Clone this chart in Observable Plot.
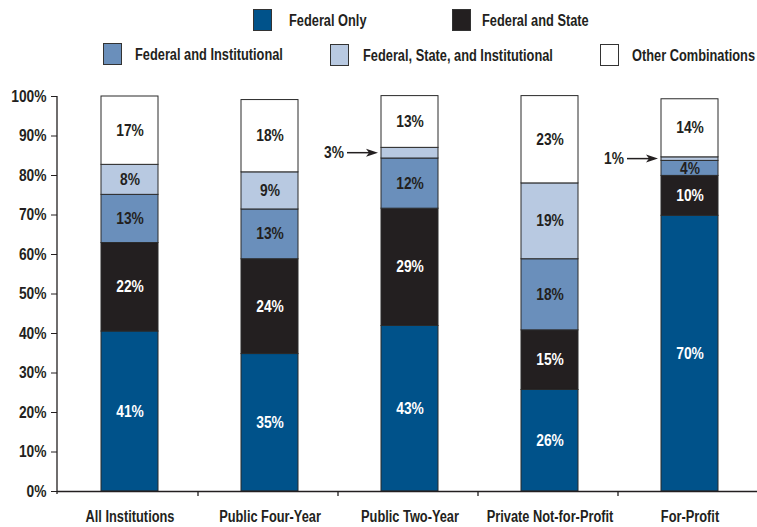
<!DOCTYPE html>
<html><head><meta charset="utf-8">
<script src="https://cdn.jsdelivr.net/npm/d3@7"></script>
<script src="https://cdn.jsdelivr.net/npm/@observablehq/plot@0.6"></script>
<style>
body{margin:0;background:#fff;}
#wrap{width:757px;font-family:"Liberation Sans",Arial,sans-serif;font-weight:bold;color:#231f20;}
#legend{position:relative;height:75px;font-size:16px;}
.sw{position:absolute;width:19px;height:22px;border:1px solid #333;box-sizing:border-box;}
.lt{position:absolute;white-space:nowrap;line-height:22px;transform:scaleX(0.8);transform-origin:0 50%;}
#chart svg{display:block;}
</style></head>
<body><div id="wrap"><div id="legend"></div><div id="chart"></div></div>
<script>
// ---- data ----
const categories = ["All Institutions", "Public Four-Year", "Public Two-Year", "Private Not-for-Profit", "For-Profit"];
const seriesNames = ["Federal Only", "Federal and State", "Federal and Institutional", "Federal, State, and Institutional", "Other Combinations"];
const seriesColors = ["#00528a", "#231f20", "#6a8fbb", "#b8c9e1", "#ffffff"];
const federalOnly = [40.5, 34.8, 41.9, 25.7, 69.8];
const federalAndState = [22.4, 24.0, 29.7, 15.1, 10.1];
const federalAndInstitutional = [12.2, 12.6, 12.7, 18.0, 3.8];
const federalStateInstitutional = [7.6, 9.4, 2.7, 19.2, 0.9];
const otherCombinations = [17.3, 18.3, 13.1, 22.1, 14.7];
const federalOnlyLabels = ["41%", "35%", "43%", "26%", "70%"];
const federalAndStateLabels = ["22%", "24%", "29%", "15%", "10%"];
const federalAndInstitutionalLabels = ["13%", "13%", "12%", "18%", "4%"];
const federalStateInstitutionalLabels = ["8%", "9%", "", "19%", ""];
const otherCombinationsLabels = ["17%", "18%", "13%", "23%", "14%"];
const calloutCategories = ["Public Two-Year", "For-Profit"];
const calloutSeries = "Federal, State, and Institutional";
const calloutLabels = ["3%", "1%"];
const yTicks = [0, 10, 20, 30, 40, 50, 60, 70, 80, 90, 100];

// ---- build table ----
const seriesValues = [federalOnly, federalAndState, federalAndInstitutional, federalStateInstitutional, otherCombinations];
const seriesLabels = [federalOnlyLabels, federalAndStateLabels, federalAndInstitutionalLabels, federalStateInstitutionalLabels, otherCombinationsLabels];
const rows = [];
categories.forEach((c, i) => {
  let acc = 0;
  seriesNames.forEach((s, j) => {
    const v = seriesValues[j][i];
    rows.push({category: c, series: s, sIndex: j, value: v, start: acc, end: acc + v, label: seriesLabels[j][i]});
    acc += v;
  });
});
const callouts = calloutCategories.map((c, k) => {
  const r = rows.find(d => d.category === c && d.series === calloutSeries);
  return {category: c, mid: (r.start + r.end) / 2, label: calloutLabels[k]};
});

// ---- legend (HTML, above the SVG) ----
const swatchPos = [[253, 9], [452, 9], [103, 43], [330, 44], [600, 44]];
const textLeft = [289, 482, 135, 363, 632];
const legend = document.getElementById("legend");
seriesNames.forEach((s, j) => {
  const sw = document.createElement("div");
  sw.className = "sw";
  sw.style.left = swatchPos[j][0] + "px";
  sw.style.top = swatchPos[j][1] + "px";
  sw.style.background = seriesColors[j];
  const tx = document.createElement("div");
  tx.className = "lt";
  tx.style.left = textLeft[j] + "px";
  tx.style.top = (swatchPos[j][1] + 1) + "px";
  tx.textContent = s;
  legend.appendChild(sw); legend.appendChild(tx);
});

// ---- custom axis lines and callouts ----
function axisLines(index, scales, values, dims) {
  const x = scales.x, y = scales.y;
  const bw = x.bandwidth ? x.bandwidth() : 0;
  const g = d3.create("svg:g").attr("stroke", "#231f20").attr("stroke-width", 1.3);
  g.append("line").attr("x1", dims.marginLeft).attr("x2", dims.marginLeft)
    .attr("y1", y(100)).attr("y2", y(0) + 3);
  for (let i = 1; i < categories.length; i++) {
    const xb = (x(categories[i - 1]) + bw + x(categories[i])) / 2 - 1.5;
    g.append("line").attr("x1", xb).attr("x2", xb).attr("y1", y(0)).attr("y2", y(0) + 5);
  }
  return g.node();
}
function calloutMarks(index, scales, values, dims) {
  const x = scales.x, y = scales.y;
  const g = d3.create("svg:g");
  callouts.forEach(c => {
    const xs = x(c.category), yy = y(c.mid);
    const tip = xs - 3, tail = xs - 34;
    g.append("line").attr("x1", tail).attr("x2", tip - 8).attr("y1", yy).attr("y2", yy)
      .attr("stroke", "#231f20").attr("stroke-width", 1.5);
    g.append("path").attr("d", `M${tip},${yy}L${tip - 12},${yy - 4}L${tip - 9},${yy}L${tip - 12},${yy + 4}Z`)
      .attr("fill", "#231f20");
    g.append("text").attr("x", tail - 3).attr("y", yy).attr("text-anchor", "end")
      .attr("dy", "0.35em").attr("fill", "#231f20").text(c.label);
  });
  return g.node();
}

const chart = Plot.plot({
  width: 757,
  height: 452,
  marginLeft: 57,
  marginRight: 0,
  marginTop: 21,
  marginBottom: 36,
  style: {fontFamily: '"Liberation Sans",Arial,sans-serif', fontSize: "16px", fontWeight: "bold", color: "#231f20", background: "#fff"},
  x: {domain: categories, range: [58, 762], paddingInner: 0.59, paddingOuter: 0.295, align: 0.5, label: null},
  y: {domain: [0, 100], label: null},
  color: {domain: seriesNames, range: seriesColors},
  marks: [
    Plot.barY(rows, {x: "category", y1: "start", y2: "end", fill: "series", stroke: "#2a2a2a", strokeWidth: 1}),
    Plot.text(rows.filter(d => d.label && d.sIndex < 2), {x: "category", y: d => (d.start + d.end) / 2, text: "label", fill: "white"}),
    Plot.text(rows.filter(d => d.label && d.sIndex >= 2), {x: "category", y: d => (d.start + d.end) / 2, text: "label", fill: "#231f20"}),
    Plot.axisY({ticks: yTicks, tickFormat: d => d + "%", tickSize: 6, tickPadding: 5, label: null}),
    Plot.axisX({tickSize: 0, tickPadding: 19, label: null}),
    Plot.ruleY([0], {stroke: "#231f20", strokeWidth: 1.3}),
    axisLines,
    calloutMarks
  ]
});
document.getElementById("chart").appendChild(chart);
// condense the bold sans text horizontally (narrow face look)
chart.querySelectorAll("text").forEach(t => {
  const len = t.getComputedTextLength();
  if (len > 0) {
    const isNum = /%$/.test(t.textContent.trim());
    t.setAttribute("textLength", (len * (isNum ? 0.86 : 0.8)).toFixed(2));
    t.setAttribute("lengthAdjust", "spacingAndGlyphs");
  }
});
</script>
</body></html>
